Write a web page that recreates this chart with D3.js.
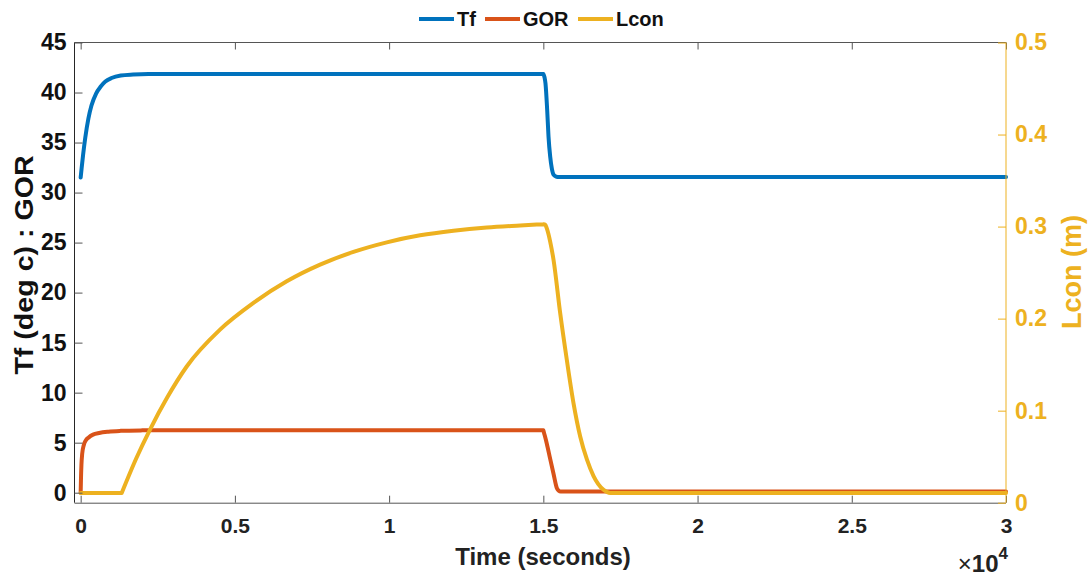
<!DOCTYPE html>
<html><head><meta charset="utf-8">
<script src="https://cdn.jsdelivr.net/npm/d3@7"></script>
<style>
body{margin:0;background:#fff;}
text{font-family:"Liberation Sans",Arial,Helvetica,sans-serif;font-weight:bold;}
</style></head>
<body>
<svg id="chart" width="1088" height="576"></svg>
<script>
// ---- data ----
const tfTime = [0,30,80,150,250,350,500,650,800,1000,1300,1700,2200,3000,15000,15040,15070,15124,15168,15222,15276,15330,15416,15500,30000];
const tfVal  = [31.5,32.4,33.8,35.5,37.4,38.7,39.9,40.6,41.1,41.45,41.7,41.8,41.85,41.85,41.85,41.5,40.9,38.3,35.6,33.6,32.4,31.8,31.6,31.55,31.55];

const gorTime = [0,10,25,50,100,170,250,400,600,900,1300,2000,3000,15000,15030,15113,15220,15330,15440,15500,15560,30000];
const gorVal  = [0,1.4,2.8,3.9,4.75,5.25,5.5,5.8,5.97,6.1,6.18,6.23,6.25,6.25,5.9,4.9,3.4,1.9,0.45,0.2,0.12,0.12];

const lconTime = [0,1330,1800,2248,2800,3438,4518,5600,6681,7762,8843,9925,11005,12085,13168,14250,15005,15060,15113,15220,15330,15546,15762,15979,16195,16412,16628,16952,17168,30000];
const lconVal  = [0.0105,0.0105,0.048,0.0795,0.114,0.148,0.188,0.217,0.2405,0.2586,0.2725,0.2829,0.2905,0.2955,0.2990,0.3012,0.3026,0.302,0.298,0.284,0.264,0.206,0.155,0.108,0.072,0.047,0.029,0.014,0.0105,0.0105];

const xTicks = [0,5000,10000,15000,20000,25000,30000];
const xTickLabels = ["0","0.5","1","1.5","2","2.5","3"];
const yLeftTicks = [0,5,10,15,20,25,30,35,40,45];
const yRightTicks = [0,0.1,0.2,0.3,0.4,0.5];
const seriesNames = ["Tf","GOR","Lcon"];
const seriesColors = ["#0072BD","#D95319","#EDB120"];

// ---- layout ----
const L = 74.5, R = 1006, T = 42.5, B = 502.7;
const svg = d3.select("#chart");
const x = d3.scaleLinear().domain([-200,30000]).range([L,R]);
const yL = d3.scaleLinear().domain([-1,45]).range([B,T]);
const yR = d3.scaleLinear().domain([0,0.5]).range([B,T]);
const axisGray = "#262626";
const yellow = "#EDB120";

// lines: each drawn as smooth pieces split at sharp corners (indices into the arrays)
const mk = (ys) => d3.line().x(d=>x(d[0])).y(d=>ys(d[1])).curve(d3.curveMonotoneX);
const series = [
  {t:tfTime, v:tfVal, s:yL, c:seriesColors[0], cuts:[14]},
  {t:gorTime, v:gorVal, s:yL, c:seriesColors[1], cuts:[13]},
  {t:lconTime, v:lconVal, s:yR, c:seriesColors[2], cuts:[1,16]}
];
series.forEach(se=>{
  const pts = se.t.map((t,i)=>[t,se.v[i]]);
  const bounds = [0, ...se.cuts, pts.length-1];
  let d = "";
  for (let k=0;k<bounds.length-1;k++){
    d += mk(se.s)(pts.slice(bounds[k], bounds[k+1]+1));
  }
  svg.append("path").attr("d", d).attr("fill","none")
    .attr("stroke", se.c).attr("stroke-width",4).attr("stroke-linejoin","round").attr("stroke-linecap","round");
});

// bottom axis
const xAxis = d3.axisBottom(x).tickValues(xTicks).tickFormat((d,i)=>xTickLabels[i]).tickSizeInner(-7).tickSizeOuter(0).tickPadding(15);
const gx = svg.append("g").attr("transform",`translate(0,${B})`).call(xAxis);
gx.select(".domain").attr("stroke","#555").attr("d",`M${L},0.5H${R}`);
gx.selectAll(".tick line").attr("stroke","#555");
gx.selectAll("text").attr("font-size",21).attr("fill","#222").attr("font-family","Liberation Sans, Arial").attr("font-weight","bold");

// top axis (box)
const xTop = d3.axisTop(x).tickValues(xTicks).tickFormat("").tickSizeInner(-7).tickSizeOuter(0);
const gt = svg.append("g").attr("transform",`translate(0,${T})`).call(xTop);
gt.select(".domain").attr("stroke","#555").attr("d",`M${L},0H${R}`);
gt.selectAll(".tick line").attr("stroke","#555");

// left axis
const yAxisL = d3.axisLeft(yL).tickValues(yLeftTicks).tickSizeInner(-8).tickSizeOuter(0).tickPadding(8);
const gl = svg.append("g").attr("transform",`translate(${L},0)`).call(yAxisL);
gl.select(".domain").attr("stroke",axisGray).attr("d",`M0,${T}V${B}`);
gl.selectAll(".tick line").attr("stroke","#555");
gl.selectAll("text").attr("font-size",23).attr("fill","#111").attr("font-family","Liberation Sans, Arial").attr("font-weight","bold");

// right axis
const yAxisR = d3.axisRight(yR).tickValues(yRightTicks).tickFormat(d=>d===0?"0":d3.format(".1f")(d)).tickSizeInner(-8).tickSizeOuter(0).tickPadding(9);
const gr = svg.append("g").attr("transform",`translate(${R},0)`).call(yAxisR);
gr.select(".domain").attr("stroke",yellow).attr("d",`M0,${T}V${B}`);
gr.selectAll(".tick line").attr("stroke",yellow);
gr.selectAll("text").attr("font-size",23).attr("fill",yellow).attr("font-family","Liberation Sans, Arial").attr("font-weight","bold");

// axis labels
svg.append("text").attr("x",543).attr("y",565).attr("text-anchor","middle").attr("font-size",24).attr("fill","#222").text("Time (seconds)");
svg.append("text").attr("transform","translate(33,265) rotate(-90) scale(1.1,1)").attr("text-anchor","middle").attr("font-size",26)
  .attr("fill","#111").text("Tf (deg c) : GOR");
svg.append("text").attr("transform","translate(1081,272) rotate(-90)").attr("text-anchor","middle").attr("font-size",27).attr("fill",yellow).text("Lcon (m)");

// exponent
const ex = svg.append("text").attr("x",1008).attr("y",572).attr("text-anchor","end").attr("fill","#222");
ex.append("tspan").attr("font-size",24).attr("font-weight","normal").text("×");
ex.append("tspan").attr("font-size",24).text("10");
ex.append("tspan").attr("font-size",17).attr("dy",-13).text("4");

// legend
const legX = [419,485,578];
seriesNames.forEach((n,i)=>{
  svg.append("line").attr("x1",legX[i]).attr("x2",legX[i]+35).attr("y1",19).attr("y2",19).attr("stroke",seriesColors[i]).attr("stroke-width",4);
  svg.append("text").attr("x",legX[i]+38).attr("y",26).attr("font-size",20).attr("fill","#111").text(n);
});
</script>
</body></html>
